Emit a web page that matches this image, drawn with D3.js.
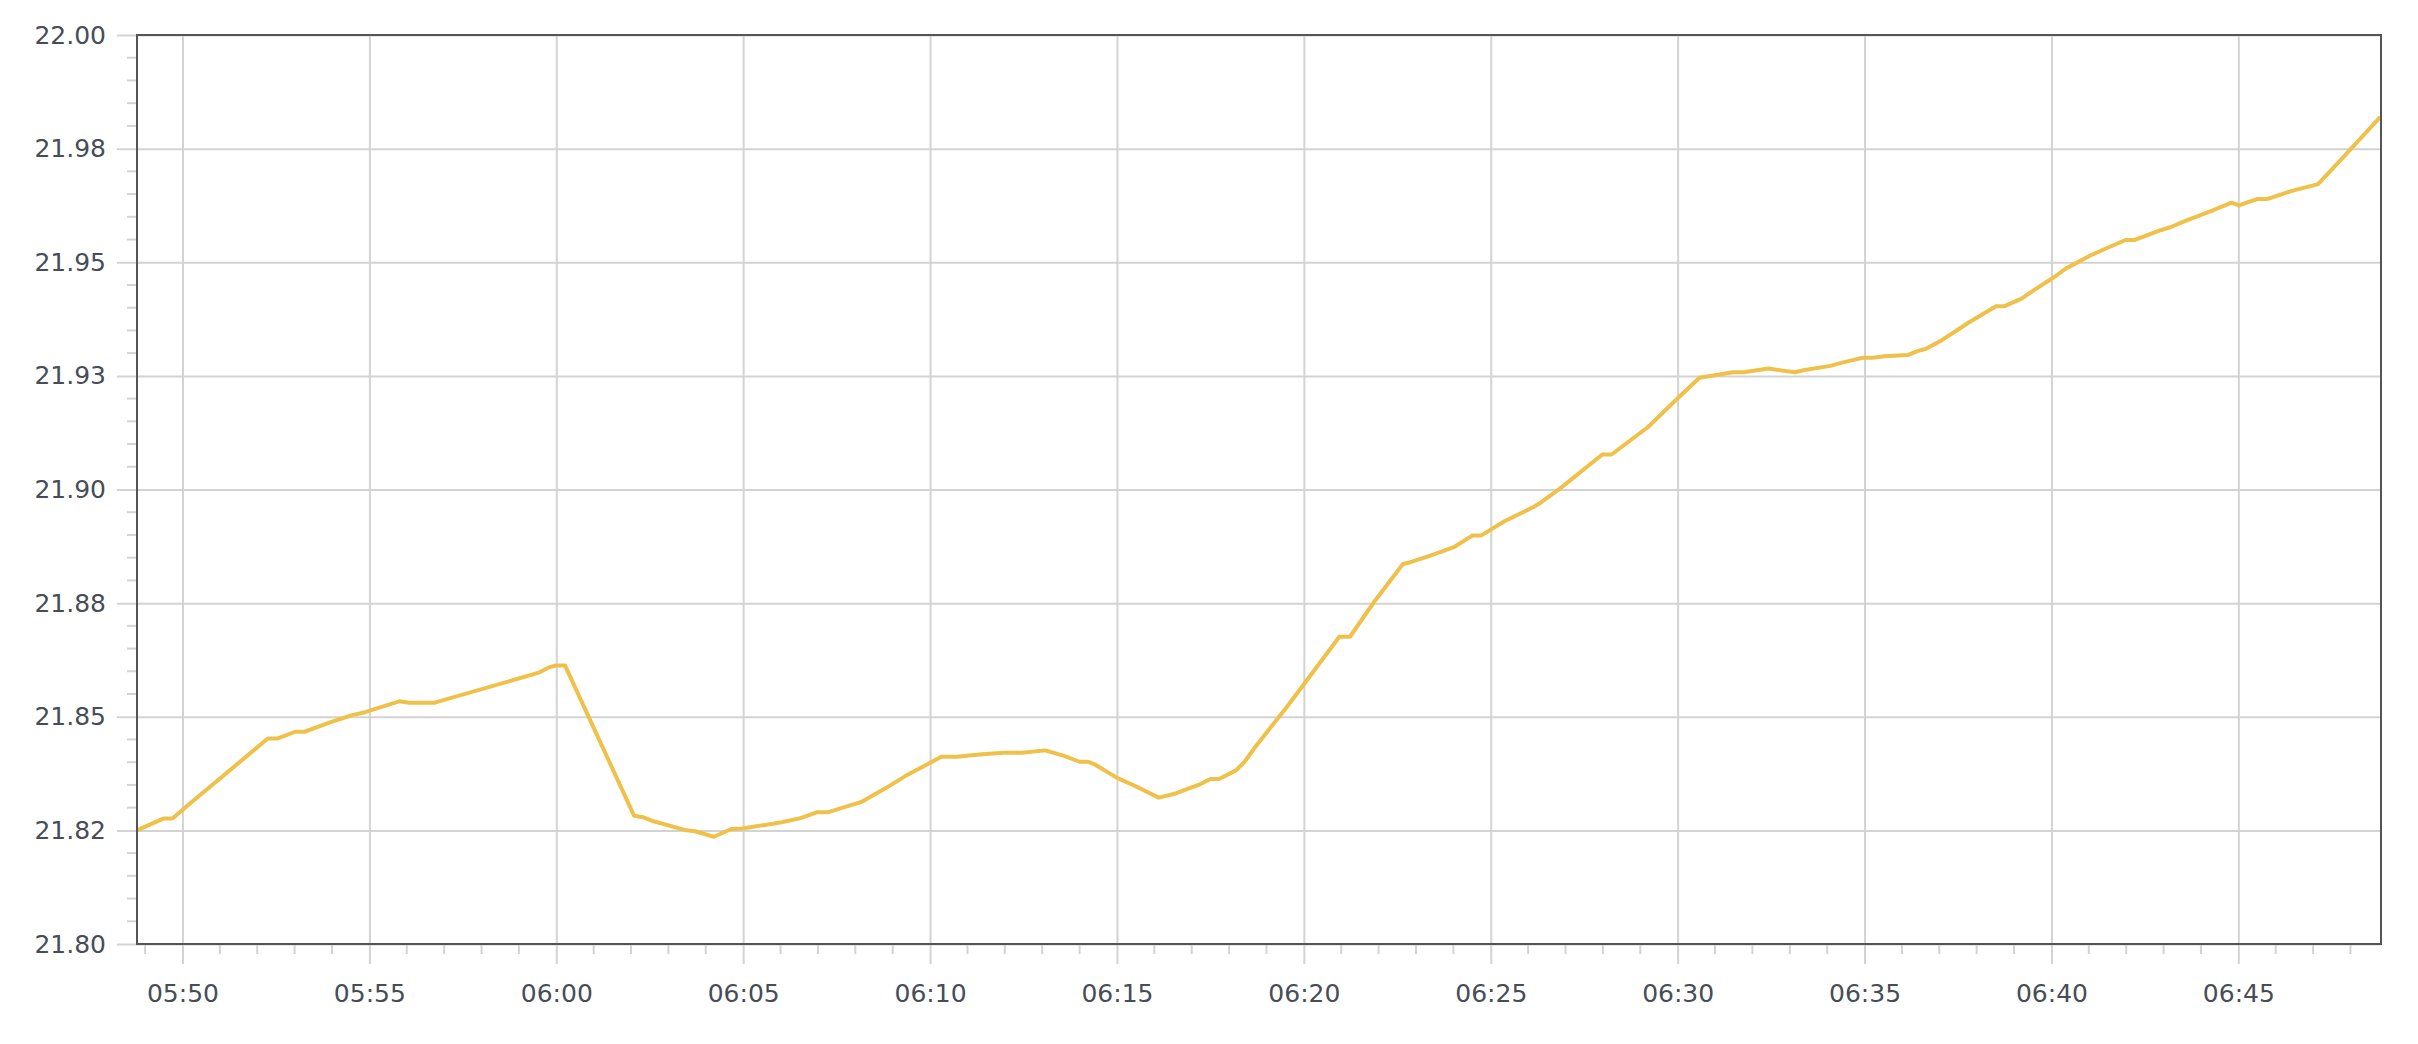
<!DOCTYPE html>
<html>
<head>
<meta charset="utf-8">
<script src="https://cdn.jsdelivr.net/npm/d3@7"></script>
<style>
  html, body { margin: 0; padding: 0; background: #ffffff; }
  svg { display: block; }
</style>
</head>
<body>
<svg id="chart" width="2418" height="1044"></svg>
<script>
// ---- data ----
const times = [
  "05:48:47","05:49:29","05:49:44","05:50:13","05:52:17","05:52:32","05:53:01","05:53:16",
  "05:53:58","05:54:31","05:54:53","05:55:48","05:56:04","05:56:45","05:59:32","05:59:47",
  "06:00:00","06:00:14","06:02:05","06:02:19","06:02:36","06:03:26","06:03:43","06:04:13",
  "06:04:41","06:04:59","06:06:02","06:06:32","06:06:59","06:07:17","06:07:40","06:08:09",
  "06:08:49","06:09:21","06:10:18","06:10:43","06:11:19","06:11:58","06:12:27","06:13:05",
  "06:13:35","06:14:00","06:14:14","06:14:26","06:15:01","06:15:30","06:16:07","06:16:31",
  "06:17:14","06:17:30","06:17:44","06:18:11","06:18:25","06:18:40","06:19:33","06:20:57",
  "06:21:14","06:21:53","06:22:39","06:22:51","06:23:22","06:24:02","06:24:31","06:24:45",
  "06:25:22","06:26:08","06:26:20","06:26:51","06:27:59","06:28:14","06:29:12","06:30:01",
  "06:30:35","06:30:50","06:31:29","06:31:46","06:32:26","06:33:08","06:33:24","06:34:05",
  "06:34:21","06:34:36","06:34:57","06:35:13","06:35:32","06:36:10","06:36:26","06:36:38",
  "06:37:01","06:37:29","06:37:48","06:38:31","06:38:44","06:39:12","06:39:29","06:40:04",
  "06:40:23","06:41:04","06:41:32","06:41:59","06:42:14","06:42:52","06:43:11","06:43:31",
  "06:44:17","06:44:49","06:45:01","06:45:30","06:45:46","06:46:26","06:47:08","06:47:43",
  "06:48:48"
];
const values = [
  21.8250,21.8276,21.8276,21.8310,21.8452,21.8452,21.8467,21.8467,
  21.8488,21.8503,21.8510,21.8534,21.8531,21.8531,21.8597,21.8608,
  21.8613,21.8613,21.8282,21.8279,21.8270,21.8251,21.8248,21.8236,
  21.8253,21.8254,21.8268,21.8277,21.8290,21.8290,21.8300,21.8312,
  21.8343,21.8370,21.8412,21.8412,21.8417,21.8421,21.8421,21.8426,
  21.8414,21.8401,21.8401,21.8394,21.8365,21.8347,21.8322,21.8330,
  21.8352,21.8363,21.8363,21.8382,21.8401,21.8430,21.8522,21.8676,
  21.8676,21.8753,21.8836,21.8840,21.8854,21.8874,21.8899,21.8899,
  21.8930,21.8961,21.8971,21.9002,21.9077,21.9077,21.9137,21.9202,
  21.9246,21.9249,21.9258,21.9258,21.9266,21.9258,21.9263,21.9272,
  21.9278,21.9283,21.9290,21.9290,21.9293,21.9296,21.9305,21.9309,
  21.9326,21.9351,21.9368,21.9403,21.9403,21.9420,21.9436,21.9467,
  21.9486,21.9516,21.9533,21.9549,21.9549,21.9569,21.9577,21.9589,
  21.9613,21.9631,21.9625,21.9639,21.9639,21.9657,21.9672,21.9723,
  21.9820
];
const xDomain = ["05:48:47", "06:48:49"];
const yDomain = [21.80, 22.00];
const yTickValues = [21.80, 21.825, 21.85, 21.875, 21.90, 21.925, 21.95, 21.975, 22.00];
const yTickLabels = ["21.80","21.82","21.85","21.88","21.90","21.93","21.95","21.98","22.00"];
const xTickLabels = ["05:50","05:55","06:00","06:05","06:10","06:15","06:20","06:25","06:30","06:35","06:40","06:45"];

// ---- layout ----
const W = 2418, H = 1044;
const margin = { left: 137, top: 35, right: 37, bottom: 100 };
const plotW = W - margin.left - margin.right;
const plotH = H - margin.top - margin.bottom;

const parseT = d3.timeParse("%H:%M:%S");
const parseHM = d3.timeParse("%H:%M");
const data = times.map((t, i) => ({ t: parseT(t), v: values[i] }));

const x = d3.scaleTime().domain(xDomain.map(parseT)).range([0, plotW]);
const y = d3.scaleLinear().domain(yDomain).range([plotH, 0]);

const svg = d3.select("#chart");
const g = svg.append("g").attr("transform", `translate(${margin.left},${margin.top})`);

const gridColor = "#d3d3d3";
const textColor = "#474d56";
const fontFamily = "'DejaVu Sans', 'Open Sans', sans-serif";

// minor y ticks (every 0.005)
const yMinor = d3.range(0, 41).map(i => 21.80 + i * 0.005).filter((v, i) => i % 5 !== 0);
g.append("g").selectAll("line").data(yMinor).join("line")
  .attr("x1", -10).attr("x2", 0)
  .attr("y1", d => y(d)).attr("y2", d => y(d))
  .attr("stroke", gridColor).attr("stroke-width", 2);

// minor x ticks (every minute)
const xMinor = d3.timeMinute.range(x.domain()[0], x.domain()[1]).filter(d => d.getMinutes() % 5 !== 0);
g.append("g").selectAll("line").data(xMinor).join("line")
  .attr("x1", d => x(d)).attr("x2", d => x(d))
  .attr("y1", plotH).attr("y2", plotH + 10)
  .attr("stroke", gridColor).attr("stroke-width", 2);

// y axis with gridlines
const yAxis = d3.axisLeft(y)
  .tickValues(yTickValues)
  .tickSize(plotW + 20)
  .tickPadding(11)
  .tickFormat((d, i) => yTickLabels[i]);
const yg = g.append("g").attr("transform", `translate(${plotW},0)`).call(yAxis);
yg.select(".domain").remove();
yg.selectAll(".tick line").attr("stroke", gridColor).attr("stroke-width", 2);
yg.selectAll(".tick text")
  .attr("fill", textColor).attr("font-size", "25px").attr("font-family", fontFamily);

// x axis with gridlines
const xTickDates = xTickLabels.map(parseHM);
const xAxis = d3.axisBottom(x)
  .tickValues(xTickDates)
  .tickSize(plotH + 20)
  .tickPadding(20)
  .tickFormat((d, i) => xTickLabels[i]);
const xg = g.append("g").call(xAxis);
xg.select(".domain").remove();
xg.selectAll(".tick line").attr("stroke", gridColor).attr("stroke-width", 2);
xg.selectAll(".tick text")
  .attr("fill", textColor).attr("font-size", "25px").attr("font-family", fontFamily);

// line
const line = d3.line().x(d => x(d.t)).y(d => y(d.v));
g.append("path").datum(data)
  .attr("fill", "none")
  .attr("stroke", "#efc14a")
  .attr("stroke-width", 4)
  .attr("stroke-linejoin", "round")
  .attr("d", line);

// frame
g.append("rect")
  .attr("x", 0).attr("y", 0).attr("width", plotW).attr("height", plotH)
  .attr("fill", "none").attr("stroke", "#555555").attr("stroke-width", 2);
</script>
</body>
</html>
